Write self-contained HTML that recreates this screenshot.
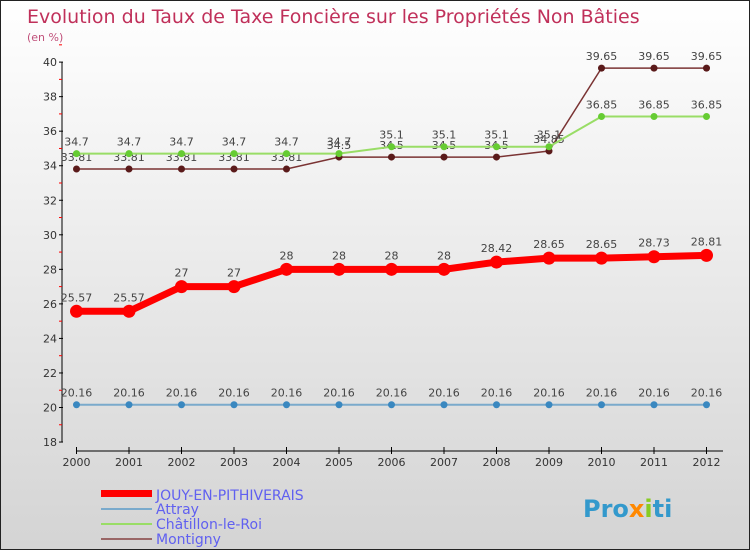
<!DOCTYPE html>
<html><head><meta charset="utf-8"><style>
body{margin:0;}
#c{width:750px;height:550px;position:relative;box-sizing:border-box;border:1px solid #222;background:linear-gradient(#fff,#d4d4d4);font-family:"DejaVu Sans","Liberation Sans",sans-serif;}
svg text{font-family:"DejaVu Sans","Liberation Sans",sans-serif;}
</style></head><body>
<div id="c">
<svg id="s" width="750" height="550" style="position:absolute;left:0;top:0">
<text x="26" y="22" font-size="19" fill="#c0305a">Evolution du Taux de Taxe Foncière sur les Propriétés Non Bâties</text>
<text x="26" y="40" font-size="11" fill="#c0507a">(en %)</text>
<g id="axes"></g><g id="series"></g>
<g>
<rect x="100" y="489" width="51" height="7" fill="#f00"/>
<text x="155" y="499" font-size="14" fill="#6060f0">JOUY-EN-PITHIVERAIS</text>
<rect x="100" y="507" width="51" height="2" fill="#7aaacc"/>
<text x="155" y="513" font-size="14" fill="#6060f0">Attray</text>
<rect x="100" y="522" width="51" height="2" fill="#99dd66"/>
<text x="155" y="528" font-size="14" fill="#6060f0">Châtillon-le-Roi</text>
<rect x="100" y="537" width="51" height="2" fill="#996666"/>
<text x="155" y="543" font-size="14" fill="#6060f0">Montigny</text>
</g>
<g><text x="582" y="516" font-size="24" font-weight="bold" fill="#3399cc">Pro<tspan fill="#ff8800">x</tspan><tspan fill="#88cc22">i</tspan><tspan fill="#3399cc">ti</tspan></text></g>
</svg>
</div>
<script>
const years=[2000,2001,2002,2003,2004,2005,2006,2007,2008,2009,2010,2011,2012];
const jouy=[25.57,25.57,27,27,28,28,28,28,28.42,28.65,28.65,28.73,28.81];
const attray=[20.16,20.16,20.16,20.16,20.16,20.16,20.16,20.16,20.16,20.16,20.16,20.16,20.16];
const chatillon=[34.7,34.7,34.7,34.7,34.7,34.7,35.1,35.1,35.1,35.1,36.85,36.85,36.85];
const montigny=[33.81,33.81,33.81,33.81,33.81,34.5,34.5,34.5,34.5,34.85,39.65,39.65,39.65];
const yTicks=[18,20,22,24,26,28,30,32,34,36,38,40];
const NS='http://www.w3.org/2000/svg';
const x=i=>75.5+i*52.5;
const y=v=>406.5-(v-20)*17.27;
function mk(t,a,p){const e=document.createElementNS(NS,t);for(const k in a)e.setAttribute(k,a[k]);p.appendChild(e);return e;}
const ax=document.getElementById('axes');
const yl=mk('line',{x1:61,y1:y(40),x2:61,y2:y(18),stroke:'#000','stroke-width':1},ax);


yTicks.forEach(v=>{
 mk('line',{x1:58,y1:y(v),x2:62,y2:y(v),stroke:'#000'},ax);
 mk('line',{x1:58,y1:y(v+1),x2:61,y2:y(v+1),stroke:'#f00'},ax);
 const t=mk('text',{x:56,y:y(v)+4,'font-size':11,fill:'#333','text-anchor':'end'},ax);t.textContent=v;
 
 
});
const xl=mk('line',{x1:75,y1:450,x2:722,y2:450,stroke:'#000'},ax);


years.forEach((yr,i)=>{
 mk('line',{x1:x(i),y1:446,x2:x(i),y2:453,stroke:'#000'},ax);
 const t=mk('text',{x:x(i),y:465,'font-size':11,fill:'#333','text-anchor':'middle'},ax);t.textContent=yr;
 
 
});
const sg=document.getElementById('series');
function series(name,vals,color,lw,r,dot,lblDy){
 const g=mk('g',{},sg);
 
 
 const pl=mk('polyline',{points:vals.map((v,i)=>x(i)+','+y(v)).join(' '),fill:'none',stroke:color,'stroke-width':lw},g);
 
 
 vals.forEach((v,i)=>{
  const c=mk('circle',{cx:x(i),cy:y(v),r:r,fill:dot},g);
  
  
  const t=mk('text',{x:x(i),y:y(v)+lblDy,'font-size':11,fill:'#444','text-anchor':'middle'},g);t.textContent=v;
  
  
 });
}
series('attray',attray,'#7aaacc',2,3.5,'#3a88c0',-8);
series('montigny',montigny,'#7a3333',1.5,3.5,'#5a1a1a',-8);
series('chatillon',chatillon,'#99dd66',2,3.5,'#66cc33',-8);
series('jouy',jouy,'#f00',7,6.5,'#f00',-10);
</script>
</body></html>
